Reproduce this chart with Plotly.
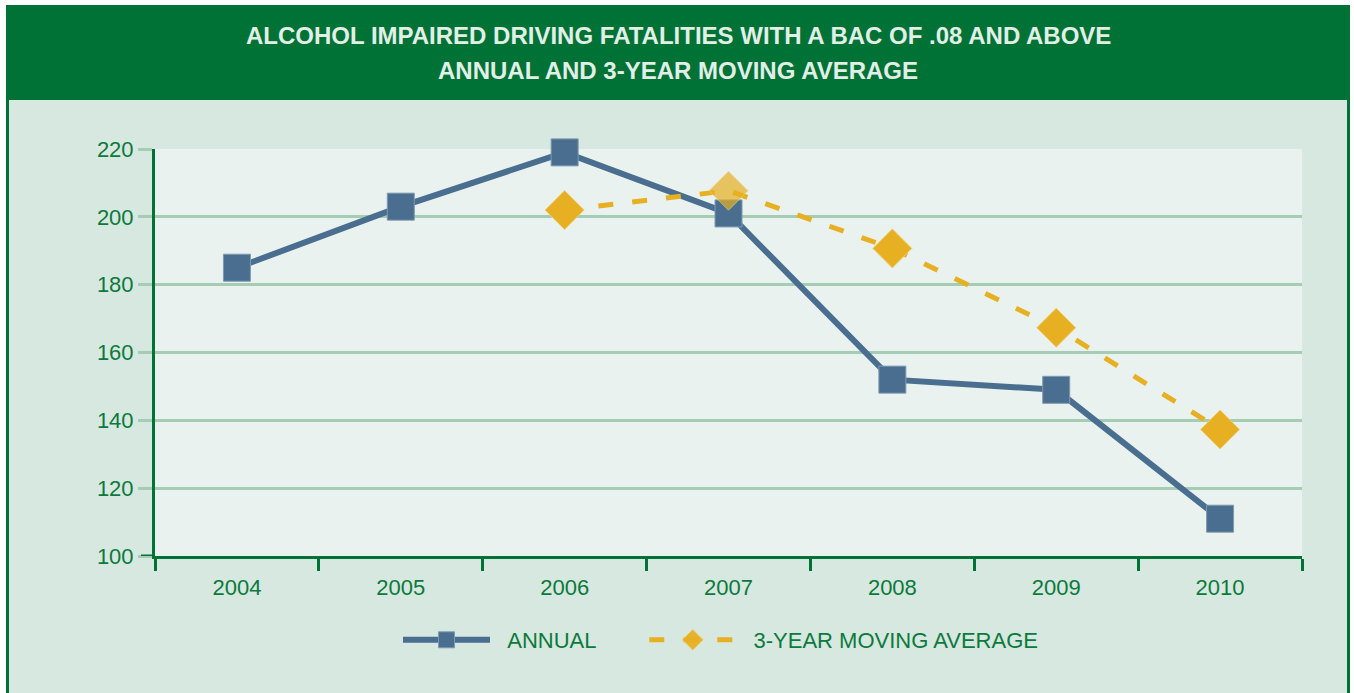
import plotly.graph_objects as go

years = ["2004", "2005", "2006", "2007", "2008", "2009", "2010"]
annual = [185, 203, 219, 201, 152, 149, 111]
ma_years = ["2006", "2007", "2008", "2009", "2010"]
moving_avg = [202, 207.7, 190.7, 167.3, 137.3]
y_ticks = [100, 120, 140, 160, 180, 200, 220]
title_lines = ["ALCOHOL IMPAIRED DRIVING FATALITIES WITH A BAC OF .08 AND ABOVE",
               "ANNUAL AND 3-YEAR MOVING AVERAGE"]
series_names = ["ANNUAL", "3-YEAR MOVING AVERAGE"]

W, H = 1354, 693
L, R, T, B = 155, 1302, 149, 556

def px(x):
    return (x - L) / (R - L)

def py(y):
    return (B - y) / (B - T)

DARK = "#007236"
TXT = "#0b7a3c"
GRID = "#a5cdb4"
BLUE = "#4a6e8f"
GOLD = "#e6b022"
FONT = "Liberation Sans, Arial, sans-serif"
NB = "\u00a0"

fig = go.Figure()
fig.add_trace(go.Scatter(
    x=years, y=annual, name=NB * 2 + series_names[0] + NB * 7, mode="lines+markers",
    line=dict(color=BLUE, width=6), cliponaxis=False,
    marker=dict(symbol="square", size=27, color=BLUE, line=dict(color="#7f9ab2", width=1)),
))
fig.add_trace(go.Scatter(
    x=ma_years, y=moving_avg, name=NB * 2 + series_names[1], mode="lines+markers",
    line=dict(color=GOLD, width=5, dash="15px,19px"), cliponaxis=False,
    marker=dict(symbol="diamond", size=30, color=GOLD, opacity=[1, 0.7, 1, 1, 1],
                line=dict(color="#f0cf7a", width=1)),
))

shapes = [
    dict(type="rect", xref="paper", yref="paper", x0=px(-2), x1=px(W + 2), y0=py(5), y1=py(-2),
         fillcolor="white", line_width=0, layer="above"),
    dict(type="rect", xref="paper", yref="paper", x0=px(-2), x1=px(6), y0=py(H + 2), y1=py(-2),
         fillcolor="white", line_width=0, layer="above"),
    dict(type="rect", xref="paper", yref="paper", x0=px(1350), x1=px(W + 2), y0=py(H + 2), y1=py(-2),
         fillcolor="white", line_width=0, layer="above"),
    dict(type="rect", xref="paper", yref="paper", x0=px(6), x1=px(1350), y0=py(100), y1=py(5),
         fillcolor=DARK, line_width=0, layer="above"),
    dict(type="rect", xref="paper", yref="paper", x0=px(6), x1=px(9), y0=py(H + 2), y1=py(100),
         fillcolor=DARK, line_width=0, layer="above"),
    dict(type="rect", xref="paper", yref="paper", x0=px(1347), x1=px(1350), y0=py(H + 2), y1=py(100),
         fillcolor=DARK, line_width=0, layer="above"),
    dict(type="line", xref="paper", yref="y", x0=px(141), x1=px(155), y0=100, y1=100,
         line=dict(color=DARK, width=3), layer="above"),
]

annotations = [
    dict(text="<b>%s</b>" % title_lines[0], xref="paper", yref="paper", x=px(678), y=py(35),
         showarrow=False, xanchor="center", yanchor="middle",
         font=dict(family=FONT, size=24, color="#e2efe7")),
    dict(text="<b>%s</b>" % title_lines[1], xref="paper", yref="paper", x=px(678), y=py(70),
         showarrow=False, xanchor="center", yanchor="middle",
         font=dict(family=FONT, size=24, color="#e2efe7")),
]

fig.update_layout(
    width=W, height=H,
    margin=dict(l=L, r=W - R, t=T, b=H - B),
    paper_bgcolor="#d7e8e0",
    plot_bgcolor="#e9f2ee",
    font=dict(family=FONT, color=TXT, size=22),
    shapes=shapes,
    annotations=annotations,
    showlegend=True,
    legend=dict(orientation="h", x=px(398), xanchor="left", y=py(640), yanchor="middle",
                bgcolor="rgba(0,0,0,0)", font=dict(family=FONT, size=22, color=TXT),
                itemwidth=87, traceorder="normal"),
    xaxis=dict(type="category", range=[-0.5, 6.5], tickson="boundaries", ticks="outside",
               ticklen=12, tickwidth=3, tickcolor=DARK, showline=True, linecolor=DARK,
               linewidth=3, showgrid=False, zeroline=False, ticklabelstandoff=10,
               tickfont=dict(family=FONT, size=22, color=TXT)),
    yaxis=dict(range=[100, 220], tickvals=y_ticks, ticks="outside", ticklen=14, tickwidth=3,
               tickcolor=GRID, showline=True, linecolor=DARK, linewidth=3,
               showgrid=True, gridcolor=GRID, gridwidth=3, zeroline=False,
               tickfont=dict(family=FONT, size=22, color=TXT)),
)

fig.write_html("out.html", post_script="document.body.style.margin='0px';",
               config={"displayModeBar": False})
